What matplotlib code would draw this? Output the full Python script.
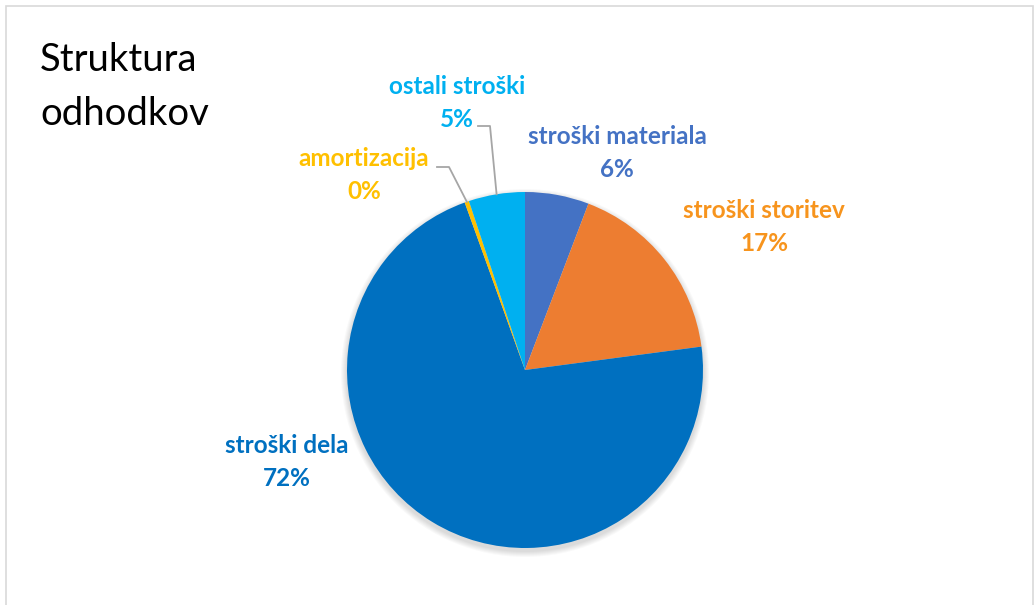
import numpy as np
import matplotlib
matplotlib.use("Agg")
import matplotlib.pyplot as plt
from matplotlib.patches import Rectangle, Circle

plt.rcParams['font.family'] = ['Lato', 'DejaVu Sans']

# podatki
kategorije = ['stroški materiala', 'stroški storitev', 'stroški dela', 'amortizacija', 'ostali stroški']
deleži = [5.8, 17.1, 71.6, 0.4, 5.1]
barve = ['#4472C4', '#ED7D31', '#0070C0', '#FFC000', '#00B0F0']
barve_napisov = ['#4472C4', '#F7941D', '#0070C0', '#FFC000', '#00B0F0']

# položaji napisov (piksli, od zgoraj)
poz_napisov = [(617, 153), (764, 227), (287, 462), (364, 175), (457, 103)]
s_crto = [False, False, False, True, True]

W, H = 1034, 605
fig = plt.figure(figsize=(W / 100, H / 100), dpi=100)
ax = fig.add_axes([0, 0, 1, 1])

# okvir
ax.add_patch(Rectangle((6, -10), W - 7, H - 6 + 10, fill=False, edgecolor='#D9D9D9', lw=1.2))

cx, cy, r = 525, H - 370, 178

# mehka senca
for k in range(6):
    ax.add_patch(Circle((cx, cy - 3), r + 1 + k, color='black', alpha=0.025, lw=0, zorder=1))

wedges, _ = ax.pie(deleži, colors=barve, startangle=90, counterclock=False,
                   center=(cx, cy), radius=r, frame=True,
                   wedgeprops=dict(linewidth=0, zorder=2))
ax.set_xlim(0, W)
ax.set_ylim(0, H)
ax.set_aspect('equal')
ax.axis('off')

tot = sum(deleži)
for w, ime, val, (px, py), barva, crta in zip(wedges, kategorije, deleži, poz_napisov, barve_napisov, s_crto):
    y = H - py
    ax.text(px, y, f"{ime}\n{round(val / tot * 100):.0f}%", ha='center', va='center',
            fontsize=17.5, fontweight='bold', color=barva, linespacing=1.5, zorder=5)
    if crta:
        kot = np.deg2rad((w.theta1 + w.theta2) / 2)
        ex, ey = cx + r * np.cos(kot), cy + r * np.sin(kot)
        if ime == 'ostali stroški':
            x0, y0 = px + 21, H - 126
        else:
            x0, y0 = px + 73, H - 167
        ax.plot([x0, x0 + 12, ex], [y0, y0, ey], color='#A6A6A6', lw=1.3, zorder=4)

ax.text(40, H - 87, 'Struktura\nodhodkov', ha='left', va='center', fontsize=27.5,
        color='black', linespacing=1.6)

fig.savefig('out.png', dpi=100)
